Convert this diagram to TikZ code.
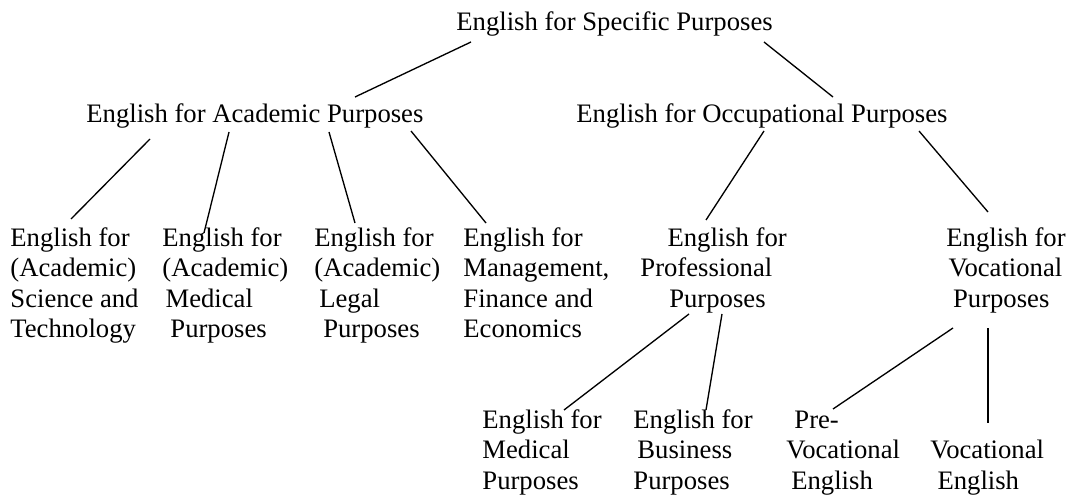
\documentclass[tikz,border=0pt]{standalone}
\usepackage{fontspec}
\setmainfont{Liberation Serif}
\usetikzlibrary{calc}

\begin{document}
\begin{tikzpicture}[x=0.45pt, y=-0.45pt,
		term/.style={inner sep=0pt, anchor=base west, align=left, font=\fontsize{12}{13.7}\selectfont}]
	% baselines of the last line of each row
	\def\top{30.7};
	\def\mid{122.7};
	\def\rowfour{337.6};
	\def\rowthree{307.1};
	\def\low{489};

	\useasboundingbox (0,0) rectangle (1070,498);

	\node [term] (specific) at (456,\top) {English for Specific Purposes};

	\node [term] (academic) at (86,\mid) {English for Academic Purposes};
	\node [term] (occupational) at (576,\mid) {English for Occupational Purposes};

	\node [term] (science) at (10,\rowfour) {English for\\(Academic)\\Science and\\Technology};
	\node [term] (acad medical) at (162,\rowfour) {English for\\(Academic)\\\hspace*{1.4pt}Medical\\\hspace*{3.6pt}Purposes};
	\node [term] (legal) at (314,\rowfour) {English for\\(Academic)\\\hspace*{2.2pt}Legal\\\hspace*{4pt}Purposes};
	\node [term] (management) at (463,\rowfour) {English for\\Management,\\Finance and\\Economics};
	\node [term] (professional) at (640,\rowthree) {\hspace*{12.2pt}English for\\Professional\\\hspace*{13pt}Purposes};
	\node [term] (vocational) at (946,\rowthree) {English for\\\hspace*{1pt}Vocational\\\hspace*{3pt}Purposes};

	\node [term] (medical) at (482,\low) {English for\\Medical\\Purposes};
	\node [term] (business) at (633,\low) {English for\\\hspace*{1.8pt}Business\\Purposes};
	\node [term] (prevocational) at (786,\low) {\hspace*{3.6pt}Pre-\\Vocational\\\hspace*{2.2pt}English};
	\node [term] (voc english) at (930,\low) {Vocational\\\hspace*{3.2pt}English};

	\begin{scope}[line width=0.6pt]
		\draw ([shift={(15,11.3)}]specific.base west) -- ([shift={(269,-25.7)}]academic.base west);
		\draw ([shift={(308,11.3)}]specific.base west) -- ([shift={(257,-25.7)}]occupational.base west);

		\draw ([shift={(64,16.3)}]academic.base west) -- ([shift={(61,-118.6)}]science.base west);
		\draw ([shift={(143,9.3)}]academic.base west) -- ([shift={(42,-104.6)}]acad medical.base west);
		\draw ([shift={(243,9.3)}]academic.base west) -- ([shift={(41,-114.6)}]legal.base west);
		\draw ([shift={(325,8.3)}]academic.base west) -- ([shift={(23,-114.6)}]management.base west);

		\draw ([shift={(188,8.3)}]occupational.base west) -- ([shift={(66,-87.1)}]professional.base west);
		\draw ([shift={(343,8.3)}]occupational.base west) -- ([shift={(42,-95.1)}]vocational.base west);

		\draw ([shift={(49,6.9)}]professional.base west) -- ([shift={(82,-79)}]medical.base west);
		\draw ([shift={(82,6.9)}]professional.base west) -- ([shift={(73,-79)}]business.base west);
		\draw ([shift={(7,20.9)}]vocational.base west) -- ([shift={(47,-80)}]prevocational.base west);
		\draw ([shift={(42,20.9)}]vocational.base west) -- ([shift={(58,-66)}]voc english.base west);
	\end{scope}
\end{tikzpicture}
\end{document}
